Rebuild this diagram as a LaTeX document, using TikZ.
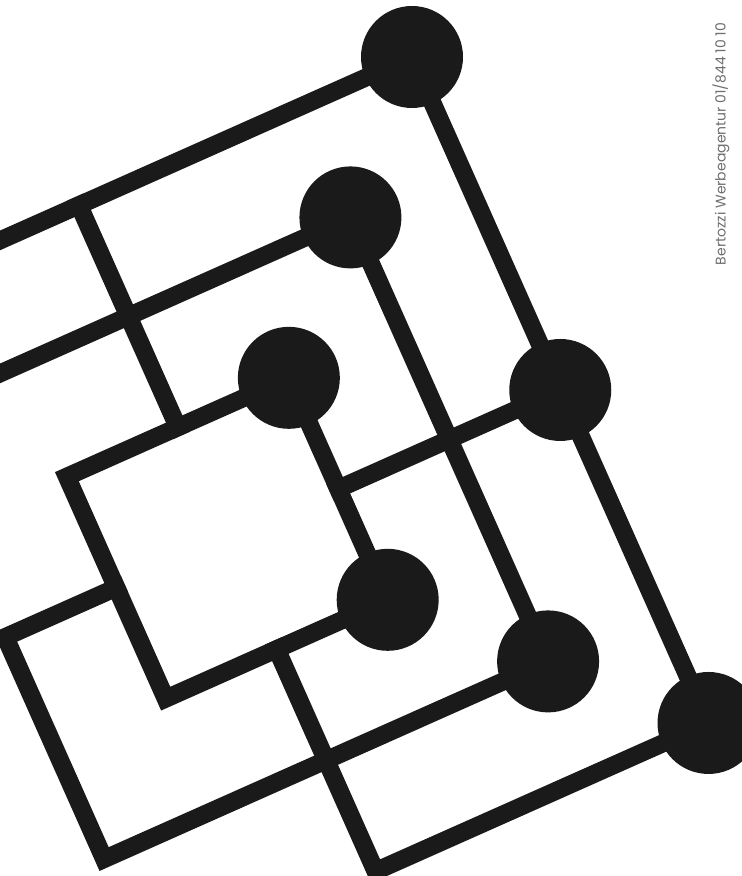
\documentclass[tikz,border=0pt]{standalone}
\usepackage{fontspec}
\newfontfamily\adfont{Poppins}
\usepackage{xcolor}
\definecolor{ink}{RGB}{26,26,26}
\definecolor{imprint}{RGB}{110,110,110}

\begin{document}
\begin{tikzpicture}[x=1pt, y=1pt]
	\def\g{121.5}
	\def\lw{18pt}
	\def\rad{102pt}

	\useasboundingbox (0,0) rectangle (742,876);
	\clip (0,0) rectangle (742,876);

	% Tilted grid: (a,b) = column, row
	\begin{scope}[shift={(412,819)}, rotate=24, x=\g pt, y=-\g pt,
			bar/.style={draw=ink, line width=\lw, line join=miter, line cap=rect},
			dot/.style={circle, fill=ink, inner sep=0pt, minimum size=\rad}]
		% Knots
		\node[dot] (k1) at (0,0) {};
		\node[dot] (k2) at (-1,1) {};
		\node[dot] (k3) at (-2,2) {};
		\node[dot] (k4) at (0,3) {};
		\node[dot] (k5) at (-2,4) {};
		\node[dot] (k6) at (-1,5) {};
		\node[dot] (k7) at (0,6) {};

		% Free ends and corners
		\coordinate (w0) at (-5,0);
		\coordinate (w1) at (-5,1);
		\coordinate (o3) at (-5,3);
		\coordinate (o5) at (-5,5);
		\coordinate (q2) at (-4,2);
		\coordinate (q3) at (-4,3);
		\coordinate (q4) at (-4,4);
		\coordinate (t0) at (-3,0);
		\coordinate (t2) at (-3,2);
		\coordinate (t4) at (-3,4);
		\coordinate (t6) at (-3,6);
		\coordinate (m3) at (-2,3);

		% Outer run down the right
		\draw[bar] (w0) -- (k1.center) -- (k7.center) -- (t6) -- (t4);
		% Second run round the bottom left
		\draw[bar] (w1) -- (k2.center) -- (k6.center) -- (o5) -- (o3) -- (q3);
		% Square
		\draw[bar] (q2) -- (k3.center) -- (k5.center) -- (q4) -- cycle;
		% Short bars
		\draw[bar] (t0) -- (t2);
		\draw[bar] (m3) -- (k4.center);
	\end{scope}

	\node[rotate=90, font=\adfont\fontsize{14}{14}\selectfont, text=imprint]
		(imprint) at (721,732) {Bertozzi Werbeagentur 01/844 10 10};
\end{tikzpicture}
\end{document}
